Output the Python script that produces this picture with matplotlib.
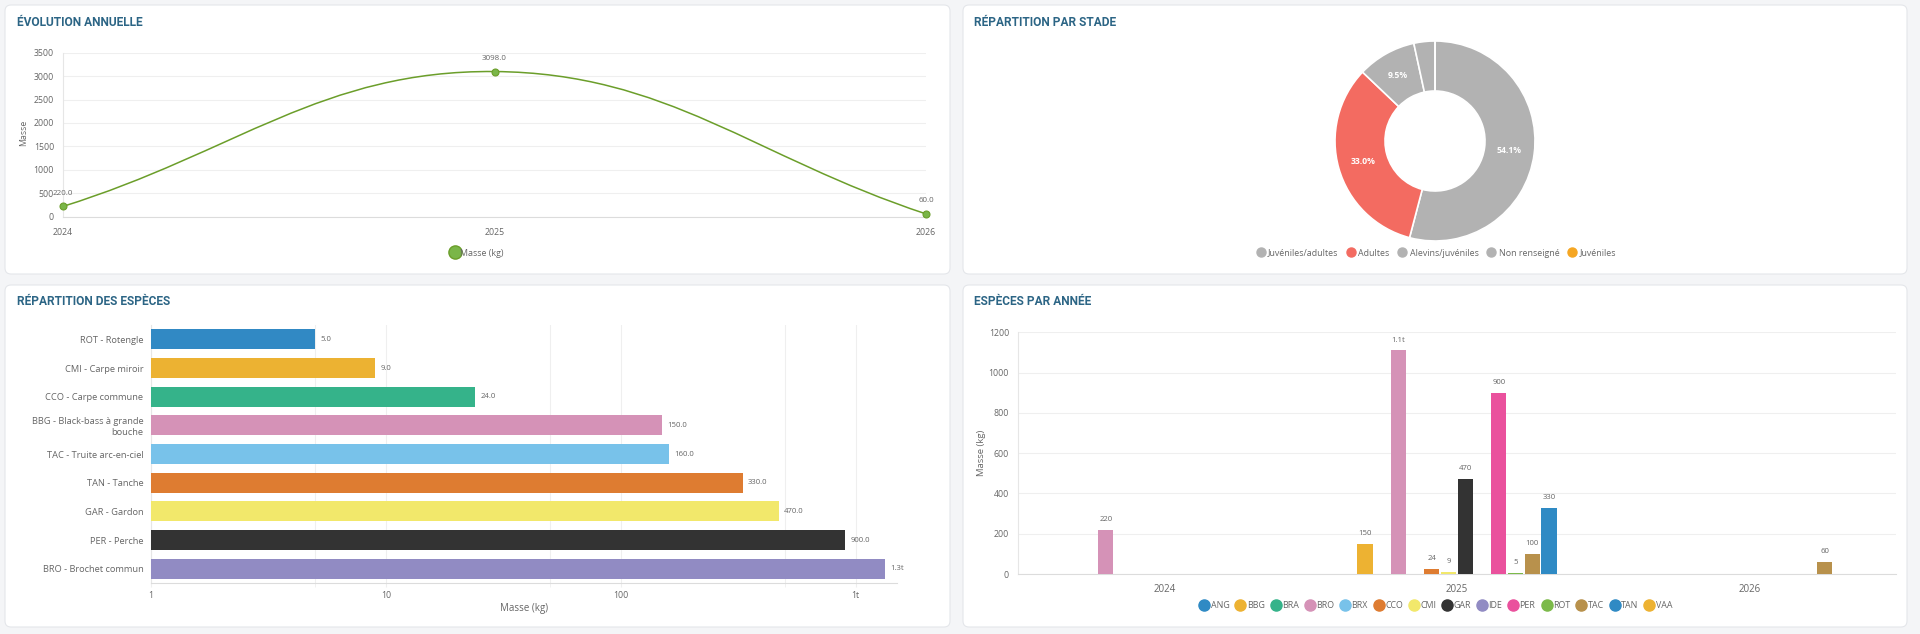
import numpy as np
import matplotlib
matplotlib.use('Agg')
import matplotlib.pyplot as plt
import matplotlib.transforms as mtransforms
from matplotlib.patches import FancyBboxPatch, PathPatch
from matplotlib.path import Path
from matplotlib.lines import Line2D

# ---- data ----
years = [2024, 2025, 2026]
masse_annee = [220.0, 3098.0, 60.0]

stades = ['Juvéniles/adultes', 'Adultes', 'Alevins/juvéniles', 'Non renseigné', 'Juvéniles']
stades_pct = [54.1, 33.0, 9.5, 3.4, 0.0]
stades_colors = ['#b2b2b2', '#f36b61', '#b2b2b2', '#b2b2b2', '#f5a623']

especes = ['ROT - Rotengle', 'CMI - Carpe miroir', 'CCO - Carpe commune',
           'BBG - Black-bass à grande\nbouche', 'TAC - Truite arc-en-ciel',
           'TAN - Tanche', 'GAR - Gardon', 'PER - Perche', 'BRO - Brochet commun']
especes_masse = [5.0, 9.0, 24.0, 150.0, 160.0, 330.0, 470.0, 900.0, 1330.0]
especes_colors = ['#3189c4', '#ecb232', '#35b38a', '#d592b7', '#78c2ea',
                  '#de7c31', '#f2e86b', '#333333', '#918bc3']

codes = ['ANG', 'BBG', 'BRA', 'BRO', 'BRX', 'CCO', 'CMI', 'GAR', 'IDE',
         'PER', 'ROT', 'TAC', 'TAN', 'VAA']
codes_colors = ['#2f8ac4', '#edb232', '#35b38a', '#d592b7', '#78c2ea', '#de7c31',
                '#f2e86b', '#333333', '#918bc3', '#ea519d', '#7cba4a', '#b8914c',
                '#2f8ac4', '#edb232']
masse_2024 = [0, 0, 0, 220, 0, 0, 0, 0, 0, 0, 0, 0, 0, 0]
masse_2025 = [0, 150, 0, 1110, 0, 24, 9, 470, 0, 900, 5, 100, 330, 0]
masse_2026 = [0, 0, 0, 0, 0, 0, 0, 0, 0, 0, 0, 60, 0, 0]

TXT = '#666666'
GRID = '#efefef'
TITLE = '#2c6585'

plt.rcParams['font.family'] = ['Open Sans', 'DejaVu Sans']

W, H = 1920, 634
fig = plt.figure(figsize=(W/100, H/100), dpi=100, facecolor='#f4f5f7')


def box(x0, y0, x1, y1):
    # pixel rect (top-left origin) -> figure fraction
    return [x0/W, 1 - y1/H, (x1 - x0)/W, (y1 - y0)/H]


def fxy(x, y):
    return x/W, 1 - y/H


pix = mtransforms.Affine2D().scale(1/W, -1/H).translate(0, 1) + fig.transFigure
for (x0, y0, x1, y1) in [(5, 5, 950, 274), (963, 5, 1907, 274),
                         (5, 285, 950, 627), (963, 285, 1907, 627)]:
    fig.patches.append(FancyBboxPatch((x0, y0), x1 - x0, y1 - y0,
                                      boxstyle='round,pad=0,rounding_size=6',
                                      transform=pix, facecolor='white',
                                      edgecolor='#e4e6ea', linewidth=0.8,
                                      zorder=-10))

titles = [(17, 22, 'ÉVOLUTION ANNUELLE'), (974, 22, 'RÉPARTITION PAR STADE'),
          (17, 302, 'RÉPARTITION DES ESPÈCES'), (974, 302, 'ESPÈCES PAR ANNÉE')]
for x, y, t in titles:
    fig.text(*fxy(x, y), t, family='Roboto', weight='bold', fontsize=8.6,
             color=TITLE, ha='left', va='center')


def style(ax):
    for s in ['top', 'right']:
        ax.spines[s].set_visible(False)
    ax.spines['left'].set_color('#e6e6e6')
    ax.spines['bottom'].set_color('#dcdcdc')
    ax.set_facecolor('none')


def legend(handles, labels, x, y, ncol, **kw):
    fig.legend(handles, labels, loc='center', bbox_to_anchor=fxy(x, y), ncol=ncol,
               frameon=False, fontsize=6.4, labelcolor=TXT, handlelength=1.0,
               borderaxespad=0, **kw)


# ---- évolution annuelle ----
ax1 = fig.add_axes(box(63, 52.7, 926, 216.7))
style(ax1)
ax1.set_xlim(2024, 2026)
ax1.set_ylim(0, 3500)
ax1.set_yticks(np.arange(0, 3501, 500))
ax1.set_xticks(years)
ax1.set_xticklabels([str(y) for y in years])
ax1.grid(axis='y', color=GRID, lw=0.8)
ax1.set_axisbelow(True)
ax1.tick_params(length=0, labelsize=6.3, labelcolor=TXT)
ax1.tick_params(axis='y', pad=6.5)
ax1.tick_params(axis='x', pad=8)

# smooth line like chart.js spline (tension 0.4), computed in pixel space
bb = ax1.get_window_extent()
sx = bb.width / 2.0
sy = bb.height / 3500.0
P = np.column_stack([(np.array(years) - 2024) * sx, np.array(masse_annee) * sy])
n = len(P)
cp_prev, cp_next = [], []
for i in range(n):
    a = P[i - 1] if i > 0 else P[i]
    b = P[i]
    c = P[i + 1] if i < n - 1 else P[i]
    d01 = np.hypot(*(b - a))
    d12 = np.hypot(*(c - b))
    s01 = d01 / (d01 + d12)
    s12 = d12 / (d01 + d12)
    cp_prev.append(b - 0.4 * s01 * (c - a))
    cp_next.append(b + 0.4 * s12 * (c - a))
verts = [P[0]]
codes_path = [Path.MOVETO]
for i in range(n - 1):
    verts += [cp_next[i], cp_prev[i + 1], P[i + 1]]
    codes_path += [Path.CURVE4] * 3
verts = np.array(verts)
verts = np.column_stack([verts[:, 0] / sx + 2024, verts[:, 1] / sy])
ax1.add_patch(PathPatch(Path(verts, codes_path), facecolor='none',
                        edgecolor='#6b9e2a', lw=1.1, clip_on=False))
ax1.plot(years, masse_annee, 'o', ms=5, mfc='#7ab648', mec='#6b9e2a',
         mew=0.8, clip_on=False, zorder=5)
for x, v in zip(years, masse_annee):
    ax1.annotate(f'{v:.1f}', (x, v), xytext=(0, 9.5), textcoords='offset points',
                 ha='center', va='center', fontsize=5.8, color=TXT)
fig.text(*fxy(24, 133), 'Masse', rotation=90, fontsize=6.3, color=TXT,
         ha='center', va='center')
legend([Line2D([], [], ls='', marker='o', ms=9.5, mfc='#7ab648', mec='#6b9e2a')],
       ['Masse (kg)'], 477, 253, 1, handletextpad=0.15)

# ---- répartition par stade ----
ax2 = fig.add_axes(box(1334, 40, 1536, 242))
ax2.pie(stades_pct, colors=stades_colors, startangle=90, counterclock=False,
        radius=1, wedgeprops=dict(width=0.5, edgecolor='white', linewidth=1.2),
        autopct=lambda p: f'{p:.1f}%' if p > 5 else '', pctdistance=0.75,
        textprops=dict(color='white', fontsize=6.2, weight='bold'))
ax2.set_xlim(-1.01, 1.01)
ax2.set_ylim(-1.01, 1.01)
legend([Line2D([], [], ls='', marker='o', ms=6.5, mfc=c, mec=c) for c in stades_colors],
       stades, 1436, 253, 5, handletextpad=0.35, columnspacing=0.9)

# ---- répartition des espèces ----
ax3 = fig.add_axes(box(151, 325, 897, 583))
style(ax3)
ypos = np.arange(len(especes))
ax3.barh(ypos, especes_masse, height=0.7, color=especes_colors, zorder=3)
ax3.set_xscale('log')
ax3.set_xlim(1, 1500)
ax3.set_ylim(len(especes) - 0.5, -0.5)
ax3.set_yticks(ypos)
ax3.set_yticklabels(especes)
ax3.set_xticks([1, 10, 100, 1000])
ax3.set_xticklabels(['1', '10', '100', '1t'])
ax3.set_xticks([5, 50, 500], minor=True)
ax3.set_xticklabels([], minor=True)
ax3.grid(axis='x', which='both', color=GRID, lw=0.8)
ax3.tick_params(axis='y', length=0, pad=5.5, labelsize=6.7, labelcolor=TXT)
ax3.tick_params(axis='x', which='both', length=3, color=GRID, pad=3,
                labelsize=6.3, labelcolor=TXT)
for i, v in enumerate(especes_masse):
    lab = f'{v/1000:.1f}t' if v >= 1000 else f'{v:.1f}'
    ax3.annotate(lab, (v, i), xytext=(4, 0), textcoords='offset points',
                 ha='left', va='center', fontsize=5.6, color=TXT)
fig.text(*fxy(524, 609), 'Masse (kg)', fontsize=7, color=TXT,
         ha='center', va='center')

# ---- espèces par année ----
ax4 = fig.add_axes(box(1018, 332.3, 1896, 574))
style(ax4)
ax4.set_xlim(-0.5, 2.5)
ax4.set_ylim(0, 1200)
ax4.set_yticks(np.arange(0, 1201, 200))
ax4.set_xticks(range(len(years)))
ax4.set_xticklabels([str(y) for y in years])
ax4.grid(axis='y', color=GRID, lw=0.8)
ax4.set_axisbelow(True)
ax4.tick_params(length=0, labelsize=6.3, labelcolor=TXT)
ax4.tick_params(axis='y', pad=6.5)
ax4.tick_params(axis='x', pad=7, labelsize=7)
mat = np.array([masse_2024, masse_2025, masse_2026])
slot = 0.8 / len(codes)
xg = np.arange(len(years))
for k, c in enumerate(codes):
    xs = xg - 0.4 + slot * (k + 0.5)
    ax4.bar(xs, mat[:, k], width=slot * 0.9, color=codes_colors[k], zorder=3)
    for x, v in zip(xs, mat[:, k]):
        if v > 0:
            lab = f'{v/1000:.1f}t' if v >= 1000 else f'{v:d}'
            ax4.annotate(lab, (x, v), xytext=(0, 7.5), textcoords='offset points',
                         ha='center', va='center', fontsize=5.6, color=TXT)
fig.text(*fxy(981, 453), 'Masse (kg)', rotation=90, fontsize=6.8, color=TXT,
         ha='center', va='center')
legend([Line2D([], [], ls='', marker='o', ms=8, mfc=c, mec=c) for c in codes_colors],
       codes, 1436, 606, len(codes), handletextpad=0.2, columnspacing=0.75)

fig.savefig('out.png', dpi=100, facecolor=fig.get_facecolor())
